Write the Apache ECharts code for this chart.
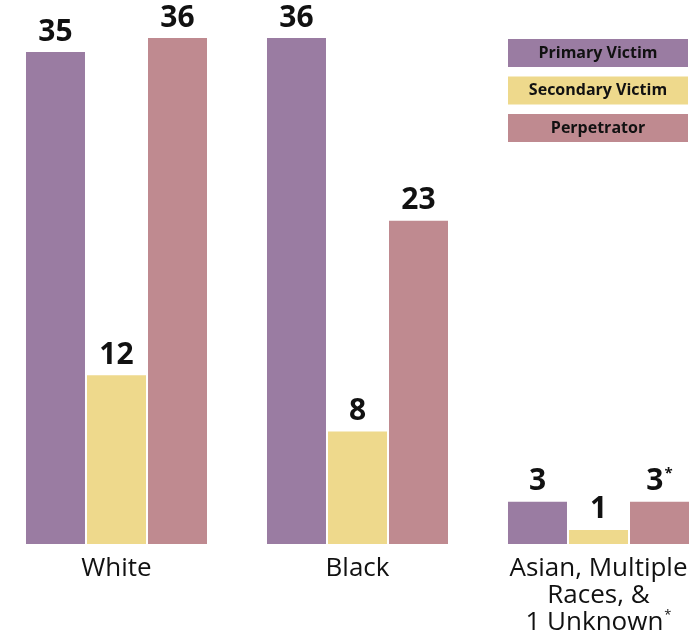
<!DOCTYPE html>
<html><head><meta charset="utf-8">
<script src="https://cdn.jsdelivr.net/npm/echarts@6/dist/echarts.min.js"></script>
<style>html,body{margin:0;padding:0;background:#fff}#c{width:698px;height:632px}</style>
</head><body><div id="c"></div>
<script>
const categories = ['White', 'Black', 'Asian, Multiple\nRaces, &\n1 Unknown'];
const categoryNotes = ['', '', '*'];
const seriesNames = ['Primary Victim', 'Secondary Victim', 'Perpetrator'];
const primaryVictim = [35, 36, 3];
const secondaryVictim = [12, 8, 1];
const perpetrator = [36, 23, 3];
const perpetratorNotes = ['', '', '*'];
const colors = ['#9a7ca2', '#eed98c', '#bf8a90'];

const FONT = '"Open Sans", "Noto Sans", sans-serif';
const valueLabel = {
  show: true, position: 'top', distance: 5,
  fontFamily: FONT, fontWeight: 'bold', fontSize: 30, color: '#111',
  rich: { sup: { fontFamily: FONT, fontSize: 15, color: '#111', verticalAlign: 'top', padding: [0, 0, 16, 1] } }
};
function makeData(values, notes) {
  return values.map((v, i) => {
    const n = notes ? notes[i] : '';
    return n ? { value: v, label: { formatter: '{c}{sup|' + n + '}' } } : v;
  });
}
const allValues = [primaryVictim, secondaryVictim, perpetrator];
const allNotes = [null, null, perpetratorNotes];
const series = seriesNames.map((name, i) => ({
  name, type: 'bar', barWidth: 59, barGap: '3.4%',
  itemStyle: { color: colors[i] },
  label: valueLabel,
  data: makeData(allValues[i], allNotes[i])
}));

const chart = echarts.init(document.getElementById('c'), null, { renderer: 'canvas' });
chart.setOption({
  animation: false,
  grid: { left: -4, width: 723, top: 0, height: 544, containLabel: false, outerBoundsMode: 'none' },
  legend: {
    orient: 'vertical', left: 498, top: 34, itemGap: 9.5,
    itemWidth: 0, itemHeight: 0, icon: 'rect',
    selectedMode: false,
    formatter: '{b|{name}}',
    data: seriesNames.map((n, i) => ({
      name: n,
      textStyle: {
        rich: {
          b: {
            backgroundColor: colors[i], width: 180, height: 28, lineHeight: 28,
            align: 'center', fontFamily: FONT, fontWeight: 'bold', fontSize: 16, color: '#111'
          }
        }
      }
    }))
  },
  xAxis: {
    type: 'category', data: categories,
    axisLine: { show: false }, axisTick: { show: false },
    axisLabel: {
      interval: 0, hideOverlap: false,
      margin: 11, fontFamily: FONT, fontSize: 26, color: '#111', lineHeight: 27,
      formatter: (v, idx) => categoryNotes[idx] ? v + '{sup|' + categoryNotes[idx] + '}' : v,
      rich: { sup: { fontFamily: FONT, fontSize: 13, color: '#111', verticalAlign: 'top', padding: [0, 0, 12, 1] } }
    }
  },
  yAxis: { type: 'value', min: 0, max: 38.7, show: false, splitLine: { show: false } },
  series
});
</script></body></html>
